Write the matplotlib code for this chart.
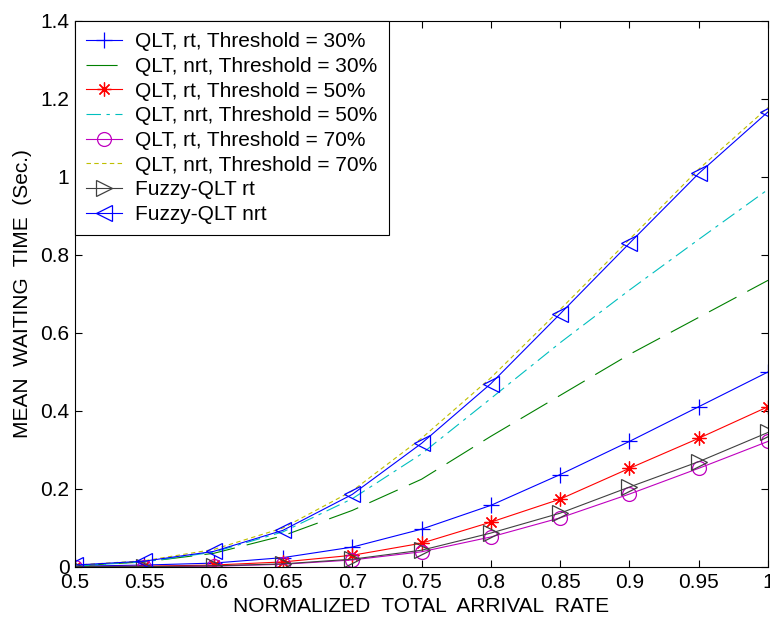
import numpy as np
import matplotlib
matplotlib.use("Agg")
import matplotlib.pyplot as plt

plt.rcParams['font.family'] = ['Liberation Sans', 'DejaVu Sans']

rate = [0.5, 0.55, 0.6, 0.65, 0.7, 0.75, 0.8, 0.85, 0.9, 0.95, 1.0]

rt30 = [0.002, 0.005, 0.010, 0.024, 0.051, 0.097, 0.158, 0.237, 0.322, 0.411, 0.500]
nrt30 = [0.003, 0.013, 0.035, 0.080, 0.145, 0.225, 0.335, 0.440, 0.545, 0.640, 0.735]
rt50 = [0.001, 0.002, 0.005, 0.013, 0.030, 0.061, 0.115, 0.174, 0.253, 0.330, 0.411]
nrt50 = [0.003, 0.013, 0.038, 0.090, 0.175, 0.290, 0.432, 0.575, 0.710, 0.840, 0.968]
rt70 = [0.001, 0.001, 0.002, 0.007, 0.018, 0.039, 0.077, 0.126, 0.187, 0.253, 0.322]
nrt70 = [0.005, 0.016, 0.045, 0.100, 0.195, 0.330, 0.485, 0.660, 0.840, 1.020, 1.178]
fuzzy_rt = [0.001, 0.001, 0.003, 0.008, 0.020, 0.043, 0.087, 0.138, 0.205, 0.270, 0.345]
fuzzy_nrt = [0.005, 0.015, 0.040, 0.094, 0.186, 0.317, 0.470, 0.649, 0.830, 1.009, 1.167]

fig = plt.figure(figsize=(7.7, 6.2), dpi=100)
ax = fig.add_axes([75/770, 1 - 567/620, 693/770, 546/620])

lw = 0.8
fs = 15
ax.plot(rate, rt30, color='#0000ff', lw=lw, marker='+', ms=11, mew=0.9,
        label='QLT, rt, Threshold = 30%')
ax.plot(rate, nrt30, color='#008000', lw=lw, dashes=(28, 11),
        label='QLT, nrt, Threshold = 30%')
ax.plot(rate, rt50, color='#ff0000', lw=lw, marker=(8, 2, 0), ms=10, mew=0.9,
        label='QLT, rt, Threshold = 50%')
ax.plot(rate, nrt50, color='#00bfbf', lw=lw, dashes=(13, 5, 3, 5),
        label='QLT, nrt, Threshold = 50%')
ax.plot(rate, rt70, color='#bf00bf', lw=lw, marker='o', ms=10, mfc='none',
        mew=0.9, label='QLT, rt, Threshold = 70%')
ax.plot(rate, nrt70, color='#bfbf00', lw=lw, dashes=(4, 3),
        label='QLT, nrt, Threshold = 70%')
ax.plot(rate, fuzzy_rt, color='#404040', lw=lw, marker='>', ms=11,
        mfc='none', mew=0.9, label='Fuzzy-QLT rt')
ax.plot(rate, fuzzy_nrt, color='#0000ff', lw=lw, marker='<', ms=11,
        mfc='none', mew=0.9, label='Fuzzy-QLT nrt')

ax.set_xlim(0.5, 1.0)
ax.set_ylim(0, 1.4)
ax.set_xticks([0.5, 0.55, 0.6, 0.65, 0.7, 0.75, 0.8, 0.85, 0.9, 0.95, 1.0])
ax.set_xticklabels(['0.5', '0.55', '0.6', '0.65', '0.7', '0.75', '0.8',
                    '0.85', '0.9', '0.95', '1'])
ax.set_yticks([0, 0.2, 0.4, 0.6, 0.8, 1.0, 1.2, 1.4])
ax.set_yticklabels(['0', '0.2', '0.4', '0.6', '0.8', '1', '1.2', '1.4'])
ax.tick_params(direction='in', top=True, right=True, labelsize=fs,
               length=5, width=0.8, pad=4)
for s in ax.spines.values():
    s.set_linewidth(0.8)

ax.set_xlabel('NORMALIZED  TOTAL  ARRIVAL  RATE', fontsize=fs, labelpad=4)
ax.set_ylabel('MEAN  WAITING  TIME  (Sec.)', fontsize=fs, labelpad=6)

leg = ax.legend(loc='upper left', fontsize=fs, fancybox=False,
                edgecolor='black', framealpha=1, borderaxespad=0,
                handlelength=1.7, handletextpad=0.65, labelspacing=0.27,
                borderpad=0.55)
leg.get_frame().set_linewidth(0.8)

fig.savefig('out.png', dpi=100)
